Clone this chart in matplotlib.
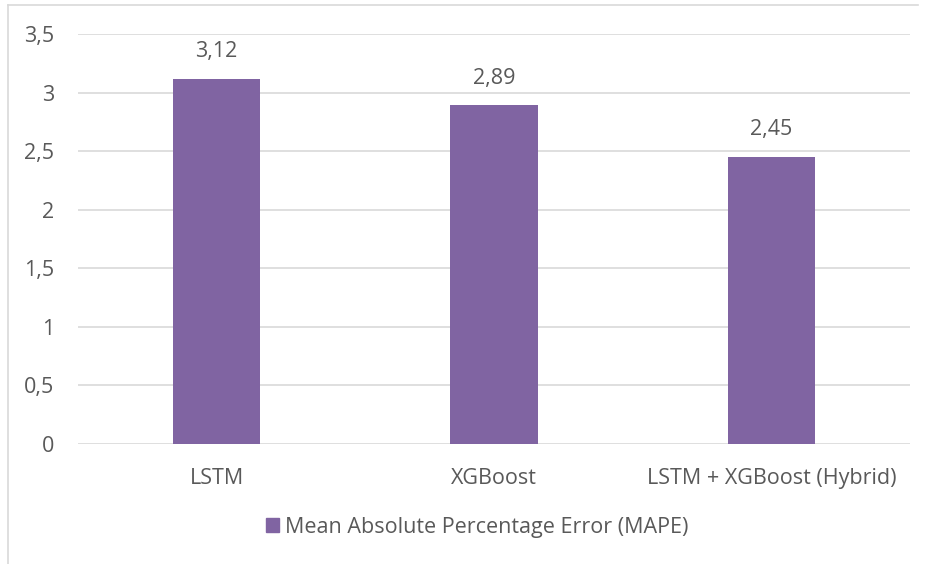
import matplotlib.pyplot as plt
from matplotlib.lines import Line2D
from matplotlib.patches import Patch

models = ["LSTM", "XGBoost", "LSTM + XGBoost (Hybrid)"]
mape = [3.12, 2.89, 2.45]
yticks = [0, 0.5, 1, 1.5, 2, 2.5, 3, 3.5]
series_name = "Mean Absolute Percentage Error (MAPE)"

bar_color = "#8064A2"
text_color = "#595959"
grid_color = "#D9D9D9"

plt.rcParams["font.family"] = ["Open Sans", "DejaVu Sans"]
fs = 15.5

W, H = 928, 564
fig = plt.figure(figsize=(W / 100, H / 100), dpi=100)
ax = fig.add_axes([78 / W, 1 - 444 / H, (910 - 78) / W, (444 - 34) / H])

x = range(len(models))
ax.bar(x, mape, width=0.314, color=bar_color, zorder=3)
for xi, v in zip(x, mape):
    ax.annotate(f"{v:.2f}".replace(".", ","), (xi, v), xytext=(0, 12),
                textcoords="offset points", ha="center", va="bottom",
                fontsize=fs, color=text_color)

ax.set_xlim(-0.5, len(models) - 0.5)
ax.set_ylim(0, 3.5)
ax.set_yticks(yticks)
ax.set_yticklabels([f"{t:g}".replace(".", ",") for t in yticks])
ax.set_xticks(list(x))
ax.set_xticklabels(models)
ax.tick_params(axis="both", length=0, labelsize=fs, labelcolor=text_color)
ax.tick_params(axis="y", pad=17)
ax.tick_params(axis="x", pad=17)
ax.yaxis.grid(True, color=grid_color, linewidth=1.2, zorder=0)
for s in ax.spines.values():
    s.set_visible(False)

fig.legend(handles=[Patch(color=bar_color, label=series_name)],
           loc="center", bbox_to_anchor=(477 / W, 1 - 527 / H),
           frameon=False, fontsize=fs, labelcolor=text_color,
           handlelength=0.6, handleheight=0.6, handletextpad=0.3)

# chart frame (top and left edges)
fig.add_artist(Line2D([8 / W, 918 / W], [1 - 5 / H, 1 - 5 / H],
                      transform=fig.transFigure, color=grid_color, lw=1.2))
fig.add_artist(Line2D([8 / W, 8 / W], [0, 1 - 5 / H],
                      transform=fig.transFigure, color=grid_color, lw=1.2))

fig.savefig("out.png", dpi=100)
